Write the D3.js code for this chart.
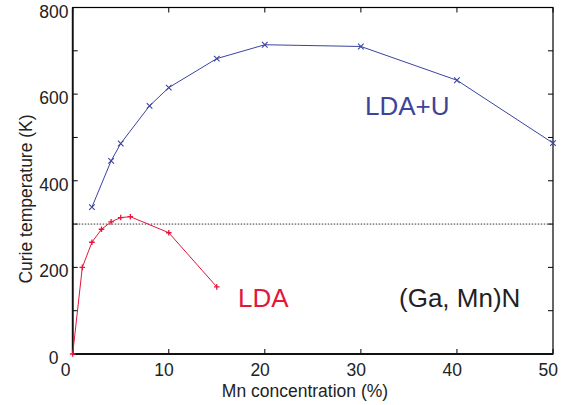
<!DOCTYPE html>
<html><head><meta charset="utf-8">
<script src="https://cdn.jsdelivr.net/npm/d3@7"></script>
<style>body{margin:0;background:#fff}svg{display:block}text{font-family:"Liberation Sans",Arial,Helvetica,sans-serif}</style>
</head><body>
<svg id="c" width="570" height="405"></svg>
<script>
const ldaX = [0, 1, 2, 3, 4, 5, 6, 10, 15];
const ldaY = [0, 200, 258, 288, 305, 315, 317, 280, 155];
const ldaUX = [2, 4, 5, 8, 10, 15, 20, 30, 40, 50];
const ldaUY = [339, 446, 486, 573, 615, 682, 714, 710, 632, 487];
const xTicks = [0, 10, 20, 30, 40, 50];
const yTicks = [0, 100, 200, 300, 400, 500, 600, 700, 800];
const yLabels = [0, 200, 400, 600, 800];
const refLine = 300;

const svg = d3.select("#c");
const L = 72.7, R = 553, T = 7.5, B = 354;
const x = d3.scaleLinear().domain([0, 50]).range([L, R]);
const y = d3.scaleLinear().domain([0, 800]).range([B, T]);
const tl = 5;

// dotted reference line
svg.append("line").attr("x1", x(0)).attr("x2", x(50)).attr("y1", y(refLine)).attr("y2", y(refLine))
  .attr("stroke", "#333").attr("stroke-width", 1).attr("stroke-dasharray", "1.5,1.5");

// ticks (inside, all four sides)
const g = svg.append("g").attr("stroke", "#000").attr("stroke-width", 1);
xTicks.forEach(v => {
  g.append("line").attr("x1", x(v)).attr("x2", x(v)).attr("y1", B).attr("y2", B - tl);
  g.append("line").attr("x1", x(v)).attr("x2", x(v)).attr("y1", T).attr("y2", T + tl);
});
yTicks.forEach(v => {
  g.append("line").attr("y1", y(v)).attr("y2", y(v)).attr("x1", L).attr("x2", L + tl);
  g.append("line").attr("y1", y(v)).attr("y2", y(v)).attr("x1", R).attr("x2", R - tl);
});
// box
svg.append("rect").attr("x", L).attr("y", T).attr("width", R - L).attr("height", B - T)
  .attr("fill", "none").attr("stroke", "#000").attr("stroke-width", 1.2);
svg.append("line").attr("x1", L).attr("x2", R).attr("y1", B).attr("y2", B).attr("stroke", "#111").attr("stroke-width", 1.8);
svg.append("line").attr("x1", L).attr("x2", L).attr("y1", T).attr("y2", B).attr("stroke", "#111").attr("stroke-width", 1.8);

// tick labels
xTicks.forEach(v => {
  svg.append("text").attr("x", x(v) - (v === 0 ? 7 : 4.7)).attr("y", 376)
    .attr("text-anchor", "middle").attr("font-size", 17.5).attr("fill", "#222").text(v);
});
yLabels.forEach(v => {
  svg.append("text").attr("x", v === 0 ? 58.5 : 68.5).attr("y", y(v) + 4 + 6)
    .attr("text-anchor", "end").attr("font-size", 17.5).attr("fill", "#222").text(v);
});

// axis titles
svg.append("text").attr("x", 305).attr("y", 397).attr("text-anchor", "middle")
  .attr("font-size", 17.5).attr("fill", "#222").text("Mn concentration (%)");
svg.append("text").attr("transform", "translate(32,199) rotate(-90)").attr("text-anchor", "middle")
  .attr("font-size", 17.5).attr("fill", "#222").text("Curie temperature (K)");

// series
const line = d3.line().x(d => x(d[0])).y(d => y(d[1]));
const red = "#e3173a", blue = "#3a44a0";
const ldaData = ldaX.map((v, i) => [v, ldaY[i]]);
const ldaUData = ldaUX.map((v, i) => [v, ldaUY[i]]);
svg.append("path").datum(ldaData).attr("d", line).attr("fill", "none").attr("stroke", red).attr("stroke-width", 1);
svg.append("path").datum(ldaUData).attr("d", line).attr("fill", "none").attr("stroke", blue).attr("stroke-width", 1);
const m = 2.8;
ldaData.forEach(d => {
  const cx = x(d[0]), cy = y(d[1]);
  svg.append("path").attr("d", `M${cx - m},${cy}H${cx + m}M${cx},${cy - m}V${cy + m}`).attr("stroke", red).attr("stroke-width", 1.3);
});
ldaUData.forEach(d => {
  const cx = x(d[0]), cy = y(d[1]);
  svg.append("path").attr("d", `M${cx - m},${cy - m}L${cx + m},${cy + m}M${cx - m},${cy + m}L${cx + m},${cy - m}`).attr("stroke", blue).attr("stroke-width", 1.1);
});

// annotations
svg.append("text").attr("x", 365).attr("y", 115).attr("font-size", 26).attr("fill", "#3d4599").text("LDA+U");
svg.append("text").attr("x", 238).attr("y", 306.5).attr("font-size", 26).attr("fill", red).text("LDA");
svg.append("text").attr("x", 399).attr("y", 306.5).attr("font-size", 26).attr("fill", "#222").text("(Ga, Mn)N");
</script>
</body></html>
